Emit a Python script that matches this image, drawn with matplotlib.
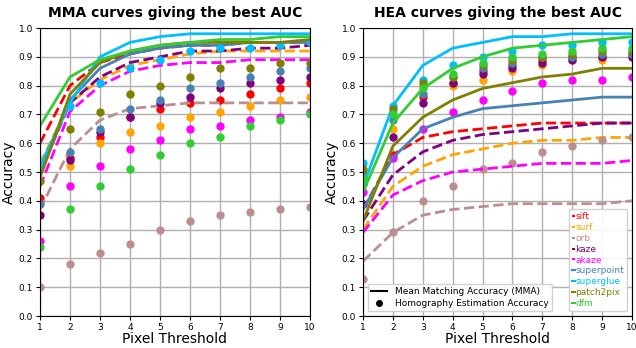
import numpy as np
import matplotlib
matplotlib.use("Agg")
import matplotlib.pyplot as plt
from matplotlib.lines import Line2D

thresholds = [1, 2, 3, 4, 5, 6, 7, 8, 9, 10]

methods = ["sift", "surf", "orb", "kaze", "akaze",
           "superpoint", "superglue", "patch2pix", "dfm"]
colors = ["red", "orange", "rosybrown", "purple", "magenta",
          "steelblue", "deepskyblue", "olive", "limegreen"]
styles = ["--", "--", "--", "--", "--", "-", "-", "-", "-"]

# left panel: MMA curves giving the best AUC
mma_left = {
    "sift":       [0.60, 0.80, 0.88, 0.91, 0.93, 0.94, 0.94, 0.95, 0.95, 0.95],
    "surf":       [0.53, 0.74, 0.82, 0.87, 0.89, 0.91, 0.92, 0.92, 0.92, 0.92],
    "orb":        [0.37, 0.58, 0.68, 0.72, 0.73, 0.74, 0.74, 0.74, 0.74, 0.74],
    "kaze":       [0.50, 0.74, 0.83, 0.88, 0.90, 0.92, 0.92, 0.93, 0.93, 0.94],
    "akaze":      [0.45, 0.71, 0.80, 0.85, 0.87, 0.88, 0.88, 0.89, 0.89, 0.89],
    "superpoint": [0.49, 0.75, 0.86, 0.91, 0.93, 0.94, 0.94, 0.95, 0.95, 0.95],
    "superglue":  [0.52, 0.74, 0.90, 0.95, 0.97, 0.98, 0.98, 0.98, 0.98, 0.98],
    "patch2pix":  [0.48, 0.77, 0.88, 0.92, 0.94, 0.95, 0.95, 0.95, 0.95, 0.96],
    "dfm":        [0.66, 0.83, 0.89, 0.92, 0.94, 0.95, 0.96, 0.96, 0.97, 0.97],
}
hea_left = {
    "sift":       [0.41, 0.55, 0.62, 0.69, 0.72, 0.74, 0.75, 0.77, 0.79, 0.81],
    "surf":       [0.54, 0.52, 0.60, 0.64, 0.66, 0.69, 0.71, 0.73, 0.75, 0.76],
    "orb":        [0.10, 0.18, 0.22, 0.25, 0.30, 0.33, 0.35, 0.36, 0.37, 0.38],
    "kaze":       [0.35, 0.54, 0.64, 0.69, 0.74, 0.76, 0.79, 0.81, 0.82, 0.83],
    "akaze":      [0.26, 0.45, 0.52, 0.58, 0.61, 0.65, 0.66, 0.68, 0.69, 0.71],
    "superpoint": [0.39, 0.57, 0.65, 0.72, 0.75, 0.79, 0.81, 0.83, 0.85, 0.86],
    "superglue":  [0.52, 0.73, 0.81, 0.86, 0.89, 0.92, 0.93, 0.93, 0.94, 0.95],
    "patch2pix":  [0.47, 0.65, 0.71, 0.77, 0.80, 0.83, 0.86, 0.86, 0.88, 0.88],
    "dfm":        [0.24, 0.37, 0.45, 0.51, 0.56, 0.60, 0.62, 0.66, 0.68, 0.70],
}

# right panel: HEA curves giving the best AUC
mma_right = {
    "sift":       [0.37, 0.56, 0.62, 0.64, 0.65, 0.66, 0.67, 0.67, 0.67, 0.67],
    "surf":       [0.30, 0.45, 0.52, 0.56, 0.58, 0.60, 0.61, 0.61, 0.62, 0.62],
    "orb":        [0.19, 0.29, 0.35, 0.37, 0.38, 0.39, 0.39, 0.39, 0.39, 0.40],
    "kaze":       [0.33, 0.49, 0.57, 0.61, 0.63, 0.64, 0.65, 0.66, 0.67, 0.67],
    "akaze":      [0.29, 0.42, 0.47, 0.50, 0.51, 0.52, 0.53, 0.53, 0.53, 0.54],
    "superpoint": [0.37, 0.55, 0.65, 0.69, 0.72, 0.73, 0.74, 0.75, 0.76, 0.76],
    "superglue":  [0.45, 0.73, 0.87, 0.93, 0.95, 0.97, 0.97, 0.98, 0.98, 0.98],
    "patch2pix":  [0.33, 0.59, 0.69, 0.75, 0.79, 0.81, 0.83, 0.84, 0.86, 0.86],
    "dfm":        [0.43, 0.67, 0.79, 0.86, 0.90, 0.93, 0.94, 0.95, 0.96, 0.97],
}
hea_right = {
    "sift":       [0.46, 0.56, 0.76, 0.81, 0.85, 0.87, 0.89, 0.90, 0.90, 0.91],
    "surf":       [0.47, 0.65, 0.80, 0.80, 0.82, 0.85, 0.87, 0.89, 0.89, 0.90],
    "orb":        [0.13, 0.29, 0.40, 0.45, 0.51, 0.53, 0.57, 0.59, 0.61, 0.62],
    "kaze":       [0.39, 0.62, 0.74, 0.81, 0.84, 0.86, 0.88, 0.89, 0.90, 0.90],
    "akaze":      [0.43, 0.55, 0.65, 0.71, 0.75, 0.78, 0.81, 0.82, 0.82, 0.83],
    "superpoint": [0.49, 0.68, 0.77, 0.83, 0.86, 0.88, 0.90, 0.90, 0.91, 0.91],
    "superglue":  [0.53, 0.73, 0.82, 0.87, 0.90, 0.92, 0.94, 0.94, 0.95, 0.95],
    "patch2pix":  [0.51, 0.72, 0.81, 0.83, 0.87, 0.89, 0.90, 0.91, 0.92, 0.92],
    "dfm":        [0.48, 0.70, 0.79, 0.84, 0.88, 0.90, 0.91, 0.92, 0.93, 0.93],
}

fig = plt.figure(figsize=(6.36, 3.48), dpi=100)
ax1 = fig.add_axes([40 / 636, 32 / 348, 270 / 636, 288 / 348])
ax2 = fig.add_axes([363 / 636, 32 / 348, 269 / 636, 288 / 348])


def draw_panel(ax, mma, hea, title):
    for m, c, ls in zip(methods, colors, styles):
        ax.plot(thresholds, mma[m], color=c, linestyle=ls, linewidth=2, label=m)
        ax.plot(thresholds, hea[m], color=c, linestyle="none", marker="o", markersize=5)
    ax.set_xlim(1, 10)
    ax.set_ylim(0, 1)
    ax.set_xticks(thresholds)
    yt = np.arange(0, 1.01, 0.1)
    ax.set_yticks(yt)
    ax.set_yticklabels([f"{v:.1f}" for v in yt])
    ax.tick_params(labelsize=6.5, length=3, pad=2)
    ax.grid(True, color="#b0b0b0", linewidth=1)
    ax.set_axisbelow(True)
    ax.set_xlabel("Pixel Threshold", fontsize=10, labelpad=0)
    ax.set_ylabel("Accuracy", fontsize=10, labelpad=2)
    ax.set_title(title, fontsize=10, fontweight="bold", pad=8)


draw_panel(ax1, mma_left, hea_left, "MMA curves giving the best AUC")
draw_panel(ax2, mma_right, hea_right, "HEA curves giving the best AUC")

# legend for line vs dot meaning
kind_handles = [
    Line2D([], [], color="black", linewidth=1.5),
    Line2D([], [], color="black", linestyle="none", marker="o", markersize=4),
]
leg1 = ax2.legend(kind_handles,
                  ["Mean Matching Accuracy (MMA)", "Homography Estimation Accuracy"],
                  loc="lower left", fontsize=6.5, handlelength=1.8,
                  borderpad=0.4, labelspacing=0.3, framealpha=0.9)
ax2.add_artist(leg1)

# legend for methods, text coloured like the curves
method_handles = [Line2D([], [], color=c, linestyle=ls, linewidth=1.5)
                  for c, ls in zip(colors, styles)]
leg2 = ax2.legend(method_handles, methods, loc="lower right", fontsize=6.5,
                  handlelength=0.3, handletextpad=0.0, borderpad=0.4,
                  labelspacing=0.2, framealpha=0.9)
for txt, c in zip(leg2.get_texts(), colors):
    txt.set_color(c)

fig.savefig("out.png", dpi=100)
